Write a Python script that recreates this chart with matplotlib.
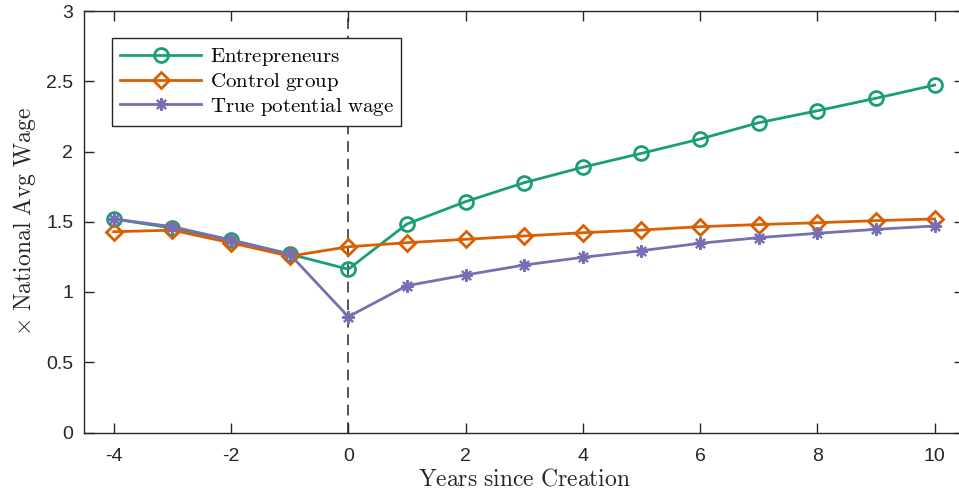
import matplotlib
matplotlib.use("Agg")
import matplotlib.pyplot as plt

plt.rcParams["mathtext.fontset"] = "cm"

years = [-4, -3, -2, -1, 0, 1, 2, 3, 4, 5, 6, 7, 8, 9, 10]
entrepreneurs = [1.52, 1.455, 1.37, 1.27, 1.162, 1.484, 1.643, 1.778, 1.888,
                 1.987, 2.089, 2.205, 2.29, 2.379, 2.473]
control_group = [1.429, 1.44, 1.35, 1.255, 1.322, 1.351, 1.375, 1.399, 1.422,
                 1.441, 1.465, 1.48, 1.493, 1.508, 1.52]
true_potential = [1.52, 1.465, 1.37, 1.27, 0.824, 1.045, 1.121, 1.192, 1.247,
                  1.294, 1.347, 1.387, 1.418, 1.446, 1.47]

xticks = [-4, -2, 0, 2, 4, 6, 8, 10]
yticks = [0, 0.5, 1, 1.5, 2, 2.5, 3]
ytick_labels = ["0", "0.5", "1", "1.5", "2", "2.5", "3"]

green = "#1b9e77"
orange = "#d95f02"
purple = "#7570b3"
axis_col = "#262626"

fig = plt.figure(figsize=(9.59, 4.99), dpi=100)
ax = fig.add_axes([84.4 / 959, 1 - 432.5 / 499, (964 - 84.4) / 959, (432.5 - 11) / 499])

ax.axvline(0, color="#262626", lw=1.1, ls=(0, (7, 4.5)), zorder=1)

ax.plot(years, entrepreneurs, color=green, lw=2, marker="o", ms=10,
        mfc="none", mew=2, label=r"$\mathrm{Entrepreneurs}$", zorder=3)
ax.plot(years, control_group, color=orange, lw=2, marker="D", ms=8.5,
        mfc="none", mew=2, label=r"$\mathrm{Control\ group}$", zorder=3)
ax.plot(years, true_potential, color=purple, lw=2, marker=(8, 2, 0), ms=9,
        mew=1.6, label=r"$\mathrm{True\ potential\ wage}$", zorder=4)

ax.set_xlim(-4.5, 10.5)
ax.set_ylim(0, 3)
ax.set_xticks(xticks)
ax.set_xticklabels([str(t) for t in xticks])
ax.set_yticks(yticks)
ax.set_yticklabels(ytick_labels)

for side in ["left", "bottom", "top", "right"]:
    ax.spines[side].set_color(axis_col)
    ax.spines[side].set_linewidth(1.0)

ax.tick_params(direction="in", length=7, width=1, color=axis_col,
               top=True, right=True, labelcolor=axis_col, labelsize=14)
ax.tick_params(axis="x", pad=11)
ax.tick_params(axis="y", pad=8)
for lab in ax.get_xticklabels() + ax.get_yticklabels():
    lab.set_family("Liberation Sans")

ax.set_xlabel(r"$\mathrm{Years\ since\ Creation}$", fontsize=17, color=axis_col,
              labelpad=1)
ax.set_ylabel(r"$\times\ \mathrm{National\ Avg\ Wage}$", fontsize=17,
              color=axis_col, labelpad=6)

leg = ax.legend(loc="upper left", bbox_to_anchor=(112 / 959, 1 - 38 / 499),
                bbox_transform=fig.transFigure, borderaxespad=0,
                fontsize=15, handlelength=3.9, handletextpad=0.4,
                labelspacing=0.14, borderpad=0.38, fancybox=False,
                framealpha=1, edgecolor=axis_col)
leg.get_frame().set_linewidth(1.0)

fig.savefig("out.png", dpi=100)
